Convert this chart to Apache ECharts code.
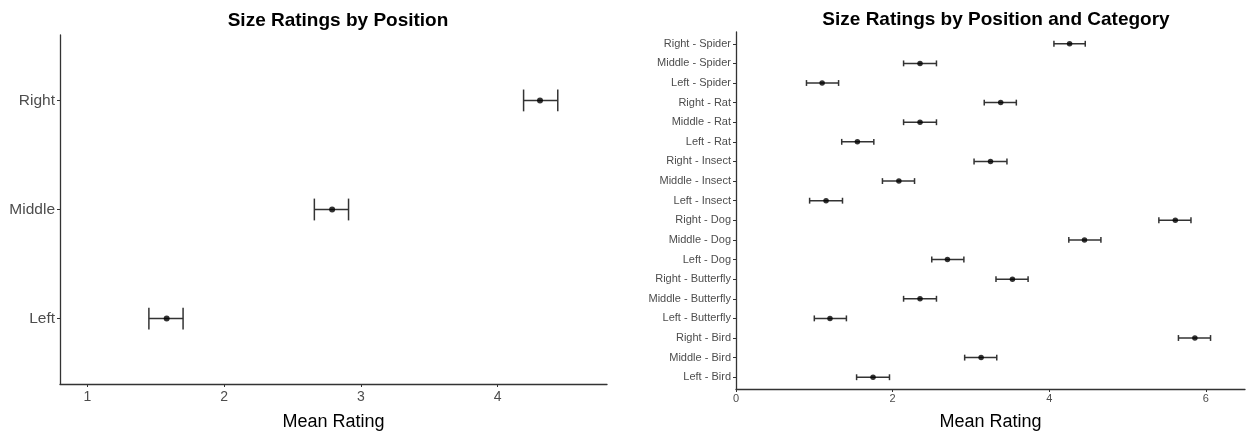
<!DOCTYPE html>
<html>
<head>
<meta charset="utf-8">
<script src="https://cdn.jsdelivr.net/npm/echarts@6/dist/echarts.min.js"></script>
<style>html,body{margin:0;padding:0;background:#fff}#c{width:1247px;height:436px}</style>
</head>
<body>
<div id="c"></div>
<script>
// Left panel (bottom to top)
var posCategories = ["Left", "Middle", "Right"];
var posMean = [1.58, 2.79, 4.31];
var posLow  = [1.45, 2.66, 4.19];
var posHigh = [1.70, 2.91, 4.44];
var posTicks = [1, 2, 3, 4];

// Right panel (bottom to top)
var catCategories = ["Left - Bird", "Middle - Bird", "Right - Bird",
  "Left - Butterfly", "Middle - Butterfly", "Right - Butterfly",
  "Left - Dog", "Middle - Dog", "Right - Dog",
  "Left - Insect", "Middle - Insect", "Right - Insect",
  "Left - Rat", "Middle - Rat", "Right - Rat",
  "Left - Spider", "Middle - Spider", "Right - Spider"];
var catMean = [1.75, 3.13, 5.86, 1.20, 2.35, 3.53, 2.70, 4.45, 5.61, 1.15, 2.08, 3.25, 1.55, 2.35, 3.38, 1.10, 2.35, 4.26];
var catLow  = [1.54, 2.92, 5.65, 1.00, 2.14, 3.32, 2.50, 4.25, 5.40, 0.94, 1.87, 3.04, 1.35, 2.14, 3.17, 0.90, 2.14, 4.06];
var catHigh = [1.96, 3.33, 6.06, 1.41, 2.56, 3.73, 2.91, 4.66, 5.81, 1.36, 2.28, 3.46, 1.76, 2.56, 3.58, 1.31, 2.56, 4.46];
var catTicks = [0, 2, 4, 6];

var FONT = "Liberation Sans, Arial, sans-serif";

function idx(n){ var a=[]; for(var i=1;i<=n;i++) a.push(i); return a; }

function errData(lo, hi){ return lo.map(function(v,i){ return [v, hi[i], i+1]; }); }
function ptData(m){ return m.map(function(v,i){ return [v, i+1]; }); }

function errRender(capUnits, lw){
  return function(params, api){
    var y = api.value(2);
    var a = api.coord([api.value(0), y]);
    var b = api.coord([api.value(1), y]);
    var h = api.size([0, capUnits])[1] / 2;
    var st = {stroke: '#333333', lineWidth: lw, fill: null};
    return {type: 'group', children: [
      {type: 'line', shape: {x1: a[0], y1: a[1], x2: b[0], y2: b[1]}, style: st},
      {type: 'line', shape: {x1: a[0], y1: a[1]-h, x2: a[0], y2: a[1]+h}, style: st},
      {type: 'line', shape: {x1: b[0], y1: b[1]-h, x2: b[0], y2: b[1]+h}, style: st}
    ]};
  };
}

var chart = echarts.init(document.getElementById('c'), null, {renderer: 'canvas'});
var axisLine = {show: true, lineStyle: {color: '#333333', width: 1.3}};
var axisTick = {show: true, length: 3, lineStyle: {color: '#333333', width: 1}};

chart.setOption({
  animation: false,
  backgroundColor: '#ffffff',
  title: [
    {text: 'Size Ratings by Position', left: 333, top: 6, textAlign: 'center',
     textStyle: {fontFamily: FONT, fontSize: 19, fontWeight: 'bold', color: '#000'}},
    {text: 'Size Ratings by Position and Category', left: 991, top: 5, textAlign: 'center',
     textStyle: {fontFamily: FONT, fontSize: 19, fontWeight: 'bold', color: '#000'}}
  ],
  grid: [
    {left: 60, right: 640, top: 35, bottom: 48, containLabel: false},
    {left: 736, right: 2, top: 32, bottom: 47, containLabel: false}
  ],
  xAxis: [
    {gridIndex: 0, type: 'value', min: 0.8, max: 4.8,
     name: 'Mean Rating', nameLocation: 'middle', nameGap: 29,
     nameTextStyle: {fontFamily: FONT, fontSize: 18, color: '#000'},
     axisLine: axisLine, axisTick: Object.assign({customValues: posTicks}, axisTick),
     axisLabel: {customValues: posTicks, fontFamily: FONT, fontSize: 14, color: '#4d4d4d', margin: 6},
     splitLine: {show: false}},
    {gridIndex: 1, type: 'value', min: 0, max: 6.5,
     name: 'Mean Rating', nameLocation: 'middle', nameGap: 24,
     nameTextStyle: {fontFamily: FONT, fontSize: 18, color: '#000'},
     axisLine: axisLine, axisTick: Object.assign({customValues: catTicks}, axisTick),
     axisLabel: {customValues: catTicks, fontFamily: FONT, fontSize: 11, color: '#4d4d4d', margin: 4},
     splitLine: {show: false}}
  ],
  yAxis: [
    {gridIndex: 0, type: 'value', min: 0.4, max: 3.6,
     axisLine: axisLine, axisTick: Object.assign({customValues: idx(posCategories.length)}, axisTick),
     axisLabel: {customValues: idx(posCategories.length), fontFamily: FONT, fontSize: 15.5, color: '#4d4d4d', margin: 5,
       formatter: function(v){ return posCategories[Math.round(v)-1] || ''; }},
     splitLine: {show: false}},
    {gridIndex: 1, type: 'value', min: 0.4, max: catCategories.length + 0.6,
     axisLine: axisLine, axisTick: Object.assign({customValues: idx(catCategories.length)}, axisTick),
     axisLabel: {customValues: idx(catCategories.length), fontFamily: FONT, fontSize: 11, color: '#4d4d4d', margin: 5,
       formatter: function(v){ return catCategories[Math.round(v)-1] || ''; }},
     splitLine: {show: false}}
  ],
  series: [
    {type: 'custom', xAxisIndex: 0, yAxisIndex: 0, data: errData(posLow, posHigh),
     encode: {x: [0, 1], y: 2}, renderItem: errRender(0.2, 1.5), z: 2},
    {type: 'scatter', xAxisIndex: 0, yAxisIndex: 0, data: ptData(posMean),
     symbol: 'circle', symbolSize: 6, itemStyle: {color: '#000'}, z: 3},
    {type: 'custom', xAxisIndex: 1, yAxisIndex: 1, data: errData(catLow, catHigh),
     encode: {x: [0, 1], y: 2}, renderItem: errRender(0.3, 1.5), z: 2},
    {type: 'scatter', xAxisIndex: 1, yAxisIndex: 1, data: ptData(catMean),
     symbol: 'circle', symbolSize: 5.5, itemStyle: {color: '#000'}, z: 3}
  ]
});
</script>
</body>
</html>
